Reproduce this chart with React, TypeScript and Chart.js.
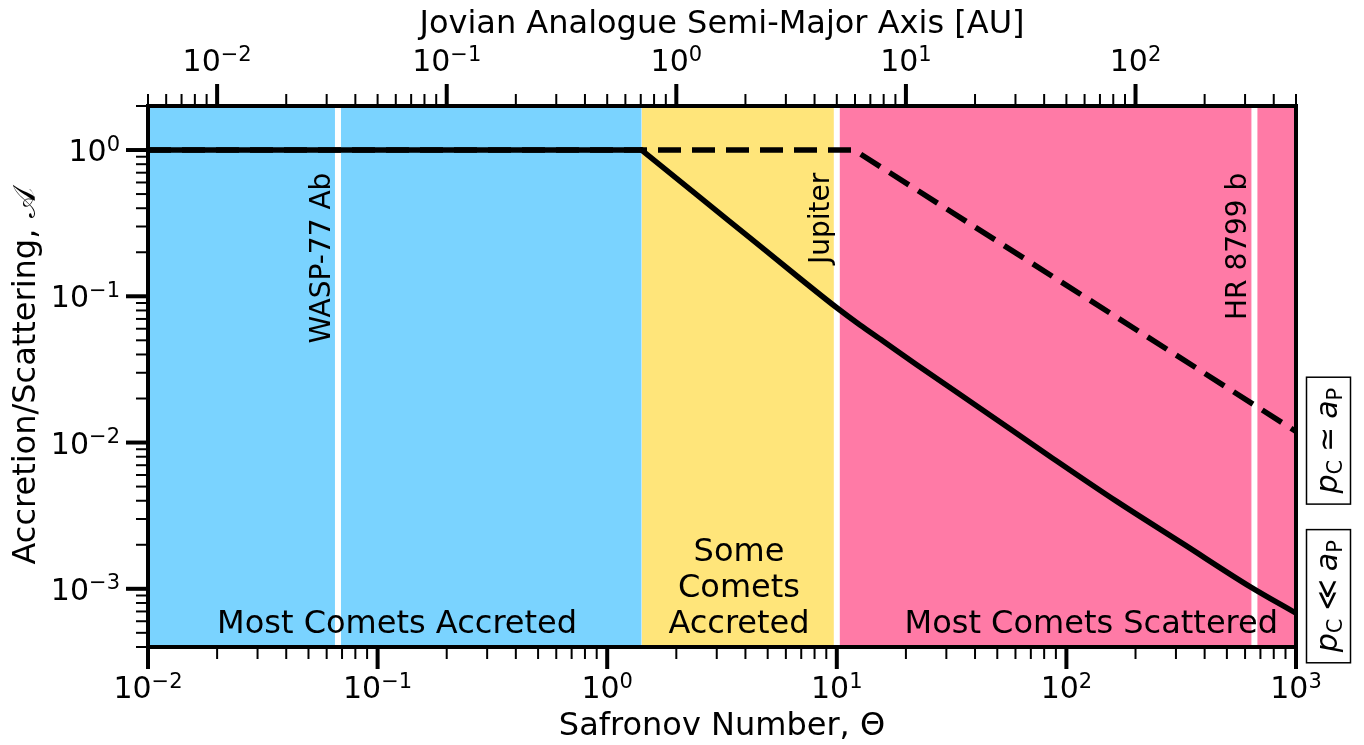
import React, { useEffect, useRef } from 'react';
import { Chart, registerables } from 'chart.js';

Chart.register(...registerables);

const FONT = '"DejaVu Sans", "Noto Sans", sans-serif';

// ---- data ----
// flat part of the solid curve (A = 1)
const flatTheta = [0.01, 1.413];
const flatA = [1, 1];
// decreasing part of the solid curve
const curveTheta = [1.413, 2.536, 4.188, 6.915, 10, 12.62, 15.89, 22.28, 43.46, 84.85, 165.6, 322.8, 630.3, 1000];
const curveA = [1, 0.475, 0.2506, 0.1323, 0.08346, 0.06365, 0.04948, 0.03402, 0.01658, 0.008035, 0.003958, 0.002027, 0.001035, 0.000681];
// dashed curve
const dashedTheta = [0.01, 11.9, 1000];
const dashedA = [1, 1, 0.0119];
const regionEdges = [0.01, 1.413, 10, 1000];
const regionColors = ['#7AD3FF', '#FFE57A', '#FF7AA6'];
const regionTexts = [['Most Comets Accreted'], ['Some', 'Comets', 'Accreted'], ['Most Comets Scattered']];
const regionTextTheta = [0.02, 3.75, 835];
const regionTextAlign = ['left', 'center', 'right'];
const regionTextA = 5e-4;
const planetNames = ['WASP-77 Ab', 'Jupiter', 'HR 8799 b'];
const planetTheta = [0.0672, 10, 659];
const planetLabelA = 0.7;
const regimeRelations = ['≃', '≪'];
const regimeA = [0.0103, 0.00089];
const thetaRange = [0.01, 1000];
const accRange = [4e-4, 2];
const auPerTheta = 0.5;
const bottomExps = [-2, -1, 0, 1, 2, 3];
const topExps = [-2, -1, 0, 1, 2];
const leftExps = [0, -1, -2, -3];
const xTitle = 'Safronov Number, Θ';
const topTitle = 'Jovian Analogue Semi-Major Axis [AU]';
const yTitle = 'Accretion/Scattering, ';
const yTitleSymbol = '𝒜';

function logTicks(min: number, max: number) {
  const out: { v: number; major: boolean }[] = [];
  const e0 = Math.floor(Math.log10(min));
  const e1 = Math.ceil(Math.log10(max));
  for (let e = e0; e <= e1; e++) {
    for (let m = 1; m <= 9; m++) {
      const v = m * Math.pow(10, e);
      if (v >= min * 0.9999 && v <= max * 1.0001) out.push({ v, major: m === 1 });
    }
  }
  return out;
}

function font(size: number, italic = false) {
  return `${italic ? 'italic ' : ''}${size}px ${FONT}`;
}

function powWidth(ctx: CanvasRenderingContext2D, exp: number) {
  ctx.font = font(30);
  const w1 = ctx.measureText('10').width;
  ctx.font = font(21);
  const w2 = ctx.measureText(exp < 0 ? '−' + Math.abs(exp) : String(exp)).width;
  return w1 + w2;
}

function drawPow(ctx: CanvasRenderingContext2D, exp: number, x: number, y: number, align: 'center' | 'right') {
  const w = powWidth(ctx, exp);
  let sx = align === 'center' ? x - w / 2 : x - w;
  ctx.textAlign = 'left';
  ctx.textBaseline = 'alphabetic';
  ctx.fillStyle = '#000';
  ctx.font = font(30);
  ctx.fillText('10', sx, y);
  sx += ctx.measureText('10').width;
  ctx.font = font(21);
  ctx.fillText(exp < 0 ? '−' + Math.abs(exp) : String(exp), sx, y - 10.5);
}

type Seg = { t: string; size: number; italic?: boolean; dy?: number; gap?: number };

function segsWidth(ctx: CanvasRenderingContext2D, segs: Seg[]) {
  let w = 0;
  for (const s of segs) {
    ctx.font = font(s.size, s.italic);
    w += ctx.measureText(s.t).width + (s.gap || 0) * 2;
  }
  return w;
}

function drawSegs(ctx: CanvasRenderingContext2D, segs: Seg[], x: number, y: number) {
  let cx = x;
  ctx.textAlign = 'left';
  ctx.textBaseline = 'alphabetic';
  for (const s of segs) {
    ctx.font = font(s.size, s.italic);
    cx += s.gap || 0;
    ctx.fillText(s.t, cx, y + (s.dy || 0));
    cx += ctx.measureText(s.t).width + (s.gap || 0);
  }
}

const decorPlugin = {
  id: 'decor',
  beforeDraw(chart: any) {
    const ctx = chart.ctx as CanvasRenderingContext2D;
    ctx.save();
    ctx.fillStyle = '#fff';
    ctx.fillRect(0, 0, chart.width, chart.height);
    ctx.restore();
  },
  afterDatasetsDraw(chart: any) {
    const ctx = chart.ctx as CanvasRenderingContext2D;
    const xs = chart.scales.x;
    const ys = chart.scales.y;
    ctx.save();
    ctx.fillStyle = '#000';
    // planet labels
    ctx.font = font(28);
    for (let i = 0; i < planetNames.length; i++) {
      const px = xs.getPixelForValue(planetTheta[i]) - 8;
      const py = ys.getPixelForValue(planetLabelA);
      ctx.save();
      ctx.translate(px, py);
      ctx.rotate(-Math.PI / 2);
      ctx.textAlign = 'right';
      ctx.textBaseline = 'alphabetic';
      ctx.fillText(planetNames[i], 0, 0);
      ctx.restore();
    }
    // region labels
    ctx.font = font(32);
    for (let i = 0; i < regionTexts.length; i++) {
      const lines = regionTexts[i];
      const px = xs.getPixelForValue(regionTextTheta[i]);
      const base = ys.getPixelForValue(regionTextA);
      ctx.textAlign = regionTextAlign[i] as CanvasTextAlign;
      ctx.textBaseline = 'alphabetic';
      for (let j = 0; j < lines.length; j++) {
        ctx.fillText(lines[j], px, base - (lines.length - 1 - j) * 35.8);
      }
    }
    ctx.restore();
  },
  afterDraw(chart: any) {
    const ctx = chart.ctx as CanvasRenderingContext2D;
    const { left, right, top, bottom } = chart.chartArea;
    const xs = chart.scales.x;
    const xt = chart.scales.x2;
    const ys = chart.scales.y;
    ctx.save();
    ctx.strokeStyle = '#000';
    ctx.fillStyle = '#000';
    ctx.lineCap = 'butt';
    const drawTick = (x1: number, y1: number, x2: number, y2: number, major: boolean) => {
      ctx.lineWidth = major ? 4 : 2;
      ctx.beginPath();
      ctx.moveTo(x1, y1);
      ctx.lineTo(x2, y2);
      ctx.stroke();
    };
    for (const t of logTicks(thetaRange[0], thetaRange[1])) {
      const px = xs.getPixelForValue(t.v);
      drawTick(px, bottom, px, bottom + (t.major ? 22 : 12), t.major);
    }
    for (const t of logTicks(thetaRange[0] * auPerTheta, thetaRange[1] * auPerTheta)) {
      const px = xt.getPixelForValue(t.v);
      drawTick(px, top, px, top - (t.major ? 22 : 12), t.major);
    }
    for (const t of logTicks(accRange[0], accRange[1])) {
      const py = ys.getPixelForValue(t.v);
      drawTick(left, py, left - (t.major ? 22 : 12), py, t.major);
    }
    // spines
    ctx.lineWidth = 4;
    ctx.lineJoin = 'miter';
    ctx.strokeRect(left, top, right - left, bottom - top);
    // tick labels
    for (const e of bottomExps) drawPow(ctx, e, xs.getPixelForValue(Math.pow(10, e)), bottom + 51, 'center');
    for (const e of topExps) drawPow(ctx, e, xt.getPixelForValue(Math.pow(10, e)), top - 35, 'center');
    for (const e of leftExps) drawPow(ctx, e, left - 28, ys.getPixelForValue(Math.pow(10, e)) + 11, 'right');
    // axis titles
    ctx.font = font(32);
    ctx.textAlign = 'center';
    ctx.textBaseline = 'alphabetic';
    ctx.fillText(xTitle, (left + right) / 2, bottom + 88);
    ctx.fillText(topTitle, (left + right) / 2, 33);
    const ySegs: Seg[] = [
      { t: yTitle, size: 32 },
      { t: yTitleSymbol, size: 32 },
    ];
    const yw = segsWidth(ctx, ySegs);
    ctx.save();
    ctx.translate(35, (top + bottom) / 2);
    ctx.rotate(-Math.PI / 2);
    drawSegs(ctx, ySegs, -yw / 2, 0);
    ctx.restore();
    // regime boxes on the right
    for (let i = 0; i < regimeRelations.length; i++) {
      const segs: Seg[] = [
        { t: 'p', size: 30, italic: true },
        { t: 'C', size: 21, dy: 5 },
        { t: regimeRelations[i], size: 30, gap: 8 },
        { t: 'a', size: 30, italic: true },
        { t: 'P', size: 21, dy: 5 },
      ];
      const w = segsWidth(ctx, segs);
      const cy = ys.getPixelForValue(regimeA[i]);
      const cx = right + 32.5;
      const len = w + 21;
      ctx.save();
      ctx.translate(cx, cy);
      ctx.rotate(-Math.PI / 2);
      ctx.lineWidth = 1.5;
      ctx.strokeRect(-len / 2, -22, len, 44);
      drawSegs(ctx, segs, -w / 2, 8.5);
      ctx.restore();
    }
    ctx.restore();
  },
};

export default function App() {
  const ref = useRef<HTMLCanvasElement | null>(null);
  useEffect(() => {
    if (!ref.current) return;
    const datasets: any[] = [];
    for (let i = 0; i < regionColors.length; i++) {
      datasets.push({
        data: [
          { x: regionEdges[i], y: accRange[1] },
          { x: regionEdges[i + 1], y: accRange[1] },
        ],
        backgroundColor: regionColors[i],
        borderWidth: 0,
        borderColor: 'rgba(0,0,0,0)',
        pointRadius: 0,
        fill: 'start',
        order: 5,
      });
    }
    for (let i = 0; i < planetTheta.length; i++) {
      datasets.push({
        data: [
          { x: planetTheta[i], y: accRange[0] },
          { x: planetTheta[i], y: accRange[1] },
        ],
        borderColor: '#ffffff',
        borderWidth: 6,
        pointRadius: 0,
        fill: false,
        order: 4,
      });
    }
    datasets.push({
      data: dashedTheta.map((t, i) => ({ x: t, y: dashedA[i] })),
      borderColor: '#000',
      borderWidth: 5.5,
      borderDash: [23, 11],
      borderCapStyle: 'butt',
      pointRadius: 0,
      fill: false,
      tension: 0,
      order: 3,
    });
    datasets.push({
      data: flatTheta.map((t, i) => ({ x: t, y: flatA[i] })),
      borderColor: '#000',
      borderWidth: 5.5,
      borderCapStyle: 'round',
      pointRadius: 0,
      fill: false,
      tension: 0,
      order: 2,
    });
    datasets.push({
      data: curveTheta.map((t, i) => ({ x: t, y: curveA[i] })),
      borderColor: '#000',
      borderWidth: 5.5,
      borderCapStyle: 'round',
      borderJoinStyle: 'round',
      cubicInterpolationMode: 'monotone',
      pointRadius: 0,
      fill: false,
      order: 1,
    });
    const chart = new Chart(ref.current, {
      type: 'line',
      data: { datasets },
      options: {
        animation: false,
        responsive: false,
        devicePixelRatio: 1,
        parsing: false,
        layout: { padding: { left: 148, right: 68, top: 106, bottom: 98 } },
        plugins: { legend: { display: false }, tooltip: { enabled: false }, title: { display: false } },
        events: [],
        scales: {
          x: { type: 'logarithmic', min: thetaRange[0], max: thetaRange[1], display: false },
          x2: {
            type: 'logarithmic',
            position: 'top',
            min: thetaRange[0] * auPerTheta,
            max: thetaRange[1] * auPerTheta,
            display: false,
          },
          y: { type: 'logarithmic', min: accRange[0], max: accRange[1], display: false },
        },
      } as any,
      plugins: [decorPlugin as any],
    });
    return () => chart.destroy();
  }, []);
  return (
    <canvas
      ref={ref}
      width={1364}
      height={745}
      style={{ position: 'fixed', left: 0, top: 0, width: 1364, height: 745 }}
    />
  );
}
